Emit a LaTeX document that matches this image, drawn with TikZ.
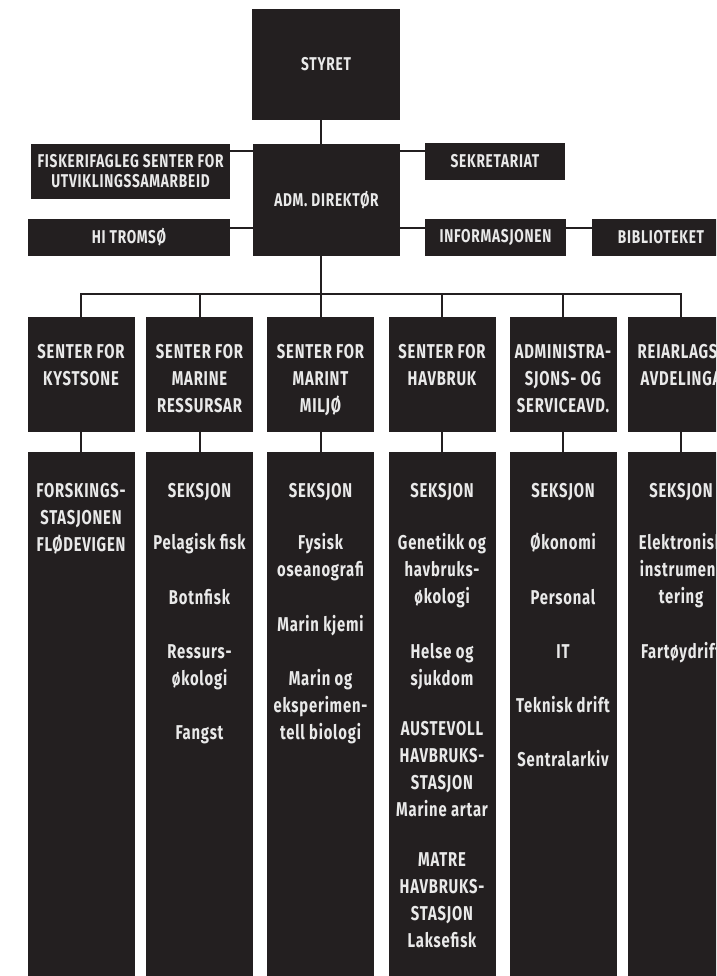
\documentclass[tikz,border=0pt]{standalone}
\usepackage{fontspec}
\newfontfamily\orgfont{Fira Sans}[FakeStretch=0.74, LetterSpace=4]
\definecolor{boxc}{HTML}{231F20}
\definecolor{txtc}{HTML}{E9E9E9}
\newcommand\colt[1]{\begin{minipage}[t]{130pt}\centering #1\end{minipage}}
\tikzset{
  orgbox/.style={fill=boxc, draw=none, inner sep=0pt, text=txtc, align=center},
  topf/.style={font=\orgfont\bfseries\fontsize{18.5}{20}\selectfont},
  colf/.style={font=\orgfont\bfseries\fontsize{20}{27}\selectfont, text=txtc, inner sep=0pt, anchor=base},
  vconn/.style={draw=boxc, line width=2pt},
  hconn/.style={draw=boxc, line width=2.8pt},
}
\begin{document}
\begin{tikzpicture}[x=1pt,y=-1pt]
\useasboundingbox (0,0) rectangle (716,976);
\clip (0,0) rectangle (716,976);
\fill[white] (0,0) rectangle (716,976);

% top level
\node[orgbox, topf, minimum width=148, minimum height=111] (styret) at (326,64.5) {STYRET};
\node[orgbox, topf, minimum width=147, minimum height=112] (adm) at (326.5,200) {ADM. DIREKTØR};
\node[orgbox, topf, minimum width=199, minimum height=55] (fisk) at (130.5,171.5) {FISKERIFAGLEG SENTER FOR\\UTVIKLINGSSAMARBEID};
\node[orgbox, topf, minimum width=140, minimum height=37] (sekr) at (495,161.5) {SEKRETARIAT};
\node[orgbox, topf, minimum width=202, minimum height=37] (hitr) at (129,237.5) {HI TROMSØ};
\node[orgbox, topf, minimum width=141, minimum height=37] (info) at (495.5,237.5) {INFORMASJONEN};
\node[orgbox, topf, minimum width=138, minimum height=37] (bibl) at (661,237.5) {BIBLIOTEKET};

\coordinate (sp) at (321,0);
\coordinate (ya) at (0,151);
\coordinate (yb) at (0,228);
\coordinate (bus) at (0,294);

\draw[vconn] (styret.south -| sp) -- (adm.north -| sp);
\draw[hconn] (fisk.east |- ya) -- (adm.west |- ya);
\draw[hconn] (adm.east |- ya) -- (sekr.west |- ya);
\draw[hconn] (hitr.east |- yb) -- (adm.west |- yb);
\draw[hconn] (adm.east |- yb) -- (info.west |- yb);
\draw[hconn] (info.east |- yb) -- (bibl.west |- yb);

% column heads
\foreach \n/\x in {1/81,2/199.5,3/320.5,4/442,5/563,6/681}{
  \node[orgbox, minimum width=107, minimum height=115] (c\n) at (\x,374.5) {};
  \node[orgbox, minimum width=107, minimum height=538] (s\n) at (\x,721) {};
}
\draw[vconn] (adm.south -| sp) -- (bus -| sp);
\draw[hconn, line cap=rect] (c1.north |- bus) -- (c6.north |- bus);
\foreach \n in {1,...,6}{
  \draw[vconn] (c\n.north |- bus) -- (c\n.north);
  \draw[vconn] (c\n.south) -- (s\n.north);
}

% column head texts
\node[colf] (c1t) at (c1 |- 0,358.5) {\colt{SENTER FOR\\KYSTSONE}};
\node[colf] (c2t) at (c2 |- 0,358.5) {\colt{SENTER FOR\\MARINE\\RESSURSAR}};
\node[colf] (c3t) at (c3 |- 0,358.5) {\colt{SENTER FOR\\MARINT\\MILJØ}};
\node[colf] (c4t) at (c4 |- 0,358.5) {\colt{SENTER FOR\\HAVBRUK}};
\node[colf] (c5t) at (c5 |- 0,358.5) {\colt{ADMINISTRA-\\SJONS- OG\\SERVICEAVD.}};
\node[colf] (c6t) at (c6 |- 0,358.5) {\colt{REIARLAGS-\\AVDELINGA}};

% section texts
\node[colf] (s1t) at (s1 |- 0,497.5) {\colt{FORSKINGS-\\STASJONEN\\FLØDEVIGEN}};
\node[colf] (s2t) at (s2 |- 0,497.5) {\colt{SEKSJON\\[25.4pt]Pelagisk fisk\\[27.2pt]Botnfisk\\[27.2pt]Ressurs-\\økologi\\[27.2pt]Fangst}};
\node[colf] (s3t) at (s3 |- 0,497.5) {\colt{SEKSJON\\[25.4pt]Fysisk\\oseanografi\\[27.2pt]Marin kjemi\\[27.2pt]Marin og\\eksperimen-\\tell biologi}};
\node[colf] (s4t) at (s4 |- 0,497.5) {\colt{SEKSJON\\[25.4pt]Genetikk og\\havbruks-\\økologi\\[27.2pt]Helse og\\sjukdom\\[23pt]AUSTEVOLL\\HAVBRUKS-\\STASJON\\Marine artar\\[23pt]MATRE\\HAVBRUKS-\\STASJON\\Laksefisk}};
\node[colf] (s5t) at (s5 |- 0,497.5) {\colt{SEKSJON\\[25.4pt]Økonomi\\[27.2pt]Personal\\[27.2pt]IT\\[27.2pt]Teknisk drift\\[27.2pt]Sentralarkiv}};
\node[colf] (s6t) at (s6 |- 0,497.5) {\colt{SEKSJON\\[25.4pt]Elektronisk\\instrumen-\\tering\\[27.2pt]Fartøydrift}};
\end{tikzpicture}
\end{document}
